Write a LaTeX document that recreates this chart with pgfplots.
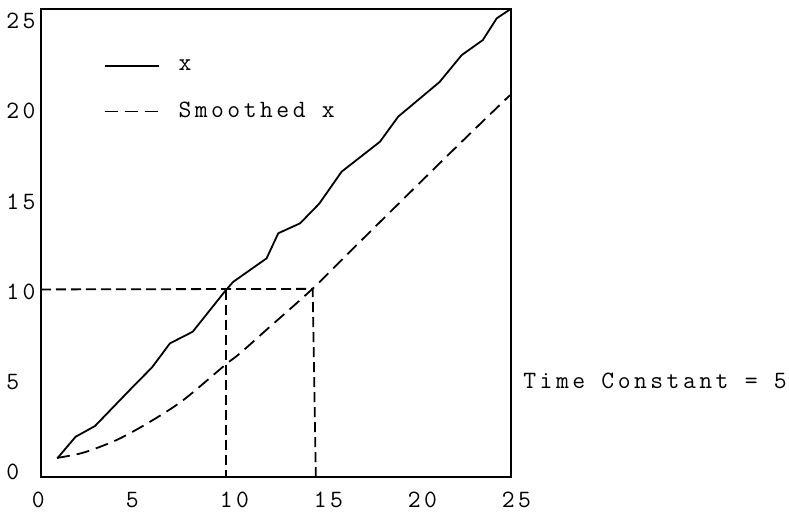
\documentclass[border=0pt]{standalone}
\usepackage{pgfplots}
\pgfplotsset{compat=1.18}
\usepackage{fontspec}
\setmonofont{Latin Modern Mono}[LetterSpace=14]
\newcommand{\cf}{\fontsize{12.5}{15}\ttfamily}
\begin{document}
\begin{tikzpicture}
\path[use as bounding box] (-20.5bp,-18bp) rectangle (374bp,238.5bp);
\begin{axis}[
  scale only axis,
  width=235bp, height=234bp,
  xmin=0, xmax=25, ymin=0, ymax=25,
  xtick={0,5,10,15,20,25}, ytick={0,5,10,15,20,25},
  major tick length=0pt,
  axis line style={line width=1.2bp},
  /pgf/number format/assume math mode=true,
  tick label style={font=\cf, inner sep=0pt},
  yticklabel style={anchor=west, xshift=-17.5bp, yshift={2.5bp-0.34bp*\tick}},
  xticklabel style={anchor=north west, xshift=-4.75bp, yshift=-7.5bp},
  clip=false,
  legend cell align=left,
  legend style={at={(axis description cs:0.12,0.91)}, anchor=north west, draw=none, fill=none,
    font=\cf, row sep=10.5bp},
  legend image code/.code={\draw[#1] (0bp,0bp) -- (27bp,0bp); \path (34.5bp,0bp);},
]
\addplot[black, line width=0.9bp] coordinates {
(0.87,1.0) (1.84,2.15) (2.87,2.72) (4.82,4.75) (5.9,5.85) (6.86,7.14) (8.07,7.76)
(9.84,9.99) (10.23,10.43) (12.0,11.68) (12.62,13.02) (13.78,13.55) (14.8,14.6)
(15.99,16.31) (18.03,17.91) (19.0,19.25) (21.2,21.1) (22.38,22.54) (23.5,23.34)
(24.24,24.5) (24.95,24.98)
};
\addlegendentry{x}
\addplot[black, line width=0.9bp, dash pattern=on 6.5bp off 3.5bp, smooth] coordinates {
(0.85,1.02) (2.25,1.30) (4.03,1.98) (5.80,2.95) (7.57,4.11) (9.79,5.98) (10.59,6.61)
(12,7.87) (14.49,10.1) (17,12.6) (21.93,17.47) (24.95,20.4)
};
\addlegendentry{Smoothed x}
\addplot[black, line width=0.9bp, dash pattern=on 5bp off 2.5bp, forget plot] coordinates {
(0,10.02) (14.45,10.05) (14.62,0)
};
\addplot[black, line width=0.9bp, dash pattern=on 5bp off 2.5bp, forget plot] coordinates {
(9.84,10.0) (9.84,0)
};
\node[anchor=base west, inner sep=0pt, font=\cf] at (axis cs:25,4.75) [xshift=6bp] {Time Constant = 5};
\end{axis}
\end{tikzpicture}
\end{document}
